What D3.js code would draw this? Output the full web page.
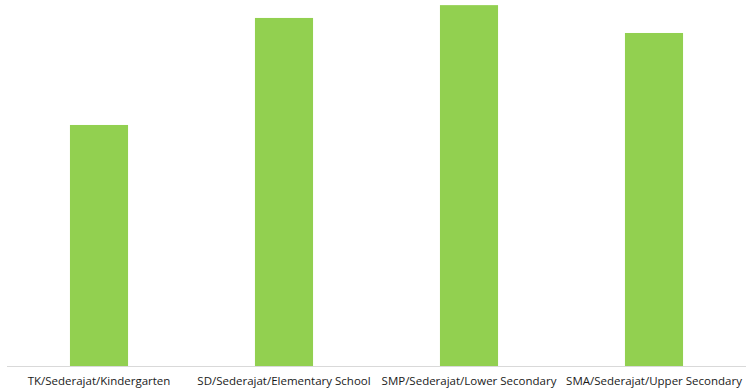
<!DOCTYPE html>
<html>
<head>
<meta charset="utf-8">
<script src="https://cdn.jsdelivr.net/npm/d3@7"></script>
<style>
  html, body { margin: 0; padding: 0; background: #fff; }
  svg { display: block; }
  .tick text { font-family: "Open Sans", "Noto Sans", sans-serif; }
</style>
</head>
<body>
<svg id="chart" width="748" height="390"></svg>
<script>
  // chart values (percentage scale)
  var categories = [
    'TK/Sederajat/Kindergarten',
    'SD/Sederajat/Elementary School',
    'SMP/Sederajat/Lower Secondary',
    'SMA/Sederajat/Upper Secondary'
  ];
  var values = [65.9, 95.1, 98.6, 91.0];

  (function () {
    'use strict';
    var width = 748;
    var height = 390;
    var baseline = 366.5;

    var svg = d3.select('#chart');

    var x = d3.scaleBand()
      .domain(categories)
      .range([6.5, 746.5])
      .paddingInner(0.686)
      .paddingOuter(0.343);

    var y = d3.scaleLinear()
      .domain([0, 100])
      .range([baseline, 0]);

    svg.append('g')
      .selectAll('rect')
      .data(values)
      .enter()
      .append('rect')
      .attr('x', function (d, i) { return x(categories[i]); })
      .attr('y', function (d) { return y(d); })
      .attr('width', x.bandwidth())
      .attr('height', function (d) { return baseline - y(d); })
      .attr('fill', '#92d050');

    // category axis, only the base line and labels
    var axis = svg.append('g')
      .attr('transform', 'translate(0,' + baseline + ')')
      .call(d3.axisBottom(x).tickSize(0).tickPadding(10));

    axis.select('.domain')
      .attr('stroke', '#d9d9d9')
      .attr('stroke-width', 1)
      .attr('d', 'M7,0H746');

    axis.selectAll('.tick text')
      .attr('font-size', '11.5px')
      .attr('fill', '#1a1a1a');
  }());
</script>
</body>
</html>
